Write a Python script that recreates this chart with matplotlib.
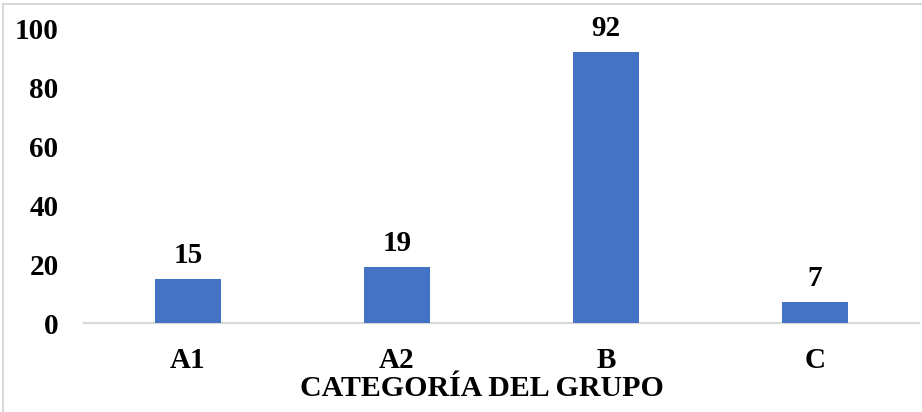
import matplotlib.pyplot as plt
from matplotlib.patches import Rectangle

categorias = ["A1", "A2", "B", "C"]
valores = [15, 19, 92, 7]
yticks = [0, 20, 40, 60, 80, 100]

plt.rcParams["font.family"] = ["Liberation Serif", "DejaVu Serif"]
plt.rcParams["font.weight"] = "bold"

fig = plt.figure(figsize=(9.22, 4.12), dpi=100)
ax = fig.add_axes([0.0906, 0.216, 0.9064, 0.716])

x = range(len(categorias))
barras = ax.bar(x, valores, width=0.316, color="#4472c4", zorder=3)
for b, v in zip(barras, valores):
    ax.annotate(str(v), (b.get_x() + b.get_width() / 2, v),
                xytext=(0, 11.5), textcoords="offset points",
                ha="center", va="baseline", fontsize=21, fontweight="bold")

ax.set_xlim(-0.5, len(categorias) - 0.5)
ax.set_ylim(0, 100)
ax.set_yticks(yticks)
ax.set_xticks(list(x))
ax.set_xticklabels(categorias)
ax.tick_params(axis="both", length=0, labelsize=21)
ax.tick_params(axis="y", pad=18)
ax.tick_params(axis="x", pad=17)
for s in ["top", "right", "left"]:
    ax.spines[s].set_visible(False)
ax.spines["bottom"].set_color("#d9d9d9")
ax.spines["bottom"].set_linewidth(1.6)
ax.set_xlabel("CATEGORÍA DEL GRUPO", fontsize=21.5, fontweight="bold")
ax.xaxis.set_label_coords(0.4767, -0.175)

# borde del gráfico
fig.patches.append(Rectangle((3 / 922, -0.1), 1.2, (412 - 4) / 412 + 0.1,
                             transform=fig.transFigure, fill=False,
                             edgecolor="#d9d9d9", linewidth=1.5))

fig.savefig("out.png", dpi=100)
